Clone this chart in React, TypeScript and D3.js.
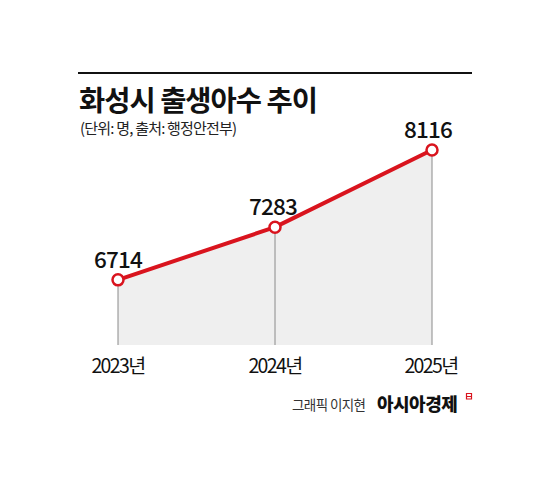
import React from "react";
import * as d3 from "d3";

const years = ["2023년", "2024년", "2025년"];
const births = [6714, 7283, 8116];
const title = "화성시 출생아수 추이";
const subtitle = "(단위: 명, 출처: 행정안전부)";
const creditName = "그래픽 이지현";
const creditBrand = "아시아경제";

const W = 550;
const H = 487;
const FONT = "'Noto Sans CJK KR', 'Noto Sans', sans-serif";

export default function App() {
  const x = d3.scalePoint<string>().domain(years).range([118, 432]);
  const y = d3.scaleLinear().domain([6000, 8116]).range([346, 150]);
  const base = 345;
  const pts = years.map((yr, i) => ({ yr, v: births[i] }));
  const line = d3
    .line<{ yr: string; v: number }>()
    .x((d) => x(d.yr)!)
    .y((d) => y(d.v));
  const area = d3
    .area<{ yr: string; v: number }>()
    .x((d) => x(d.yr)!)
    .y0(base)
    .y1((d) => y(d.v));
  const labelDx = [0, -2, -4];
  const yearDx = [0, 0, -1];

  return (
    <svg
      width={W}
      height={H}
      style={{ position: "absolute", left: 0, top: 0, background: "#fff" }}
      fontFamily={FONT}
    >
      <rect width={W} height={H} fill="#fff" />
      <line x1={78} x2={472} y1={73} y2={73} stroke="#111" strokeWidth={2} />
      <text x={79} y={111} fontSize={28.5} fontWeight={700} fill="#111" letterSpacing={-1}>
        {title}
      </text>
      <text x={80} y={134} fontSize={15} fill="#222" letterSpacing={-0.8}>
        {subtitle}
      </text>

      <path d={area(pts)!} fill="#efefef" />
      {pts.map((d) => (
        <line
          key={"v" + d.yr}
          x1={x(d.yr)}
          x2={x(d.yr)}
          y1={y(d.v)}
          y2={base}
          stroke="#8a8a8a"
          strokeWidth={1}
        />
      ))}
      <path d={line(pts)!} fill="none" stroke="#d9141e" strokeWidth={4} strokeLinejoin="round" />
      {pts.map((d) => (
        <circle
          key={"c" + d.yr}
          cx={x(d.yr)}
          cy={y(d.v)}
          r={5.5}
          fill="#fff"
          stroke="#d9141e"
          strokeWidth={2.5}
        />
      ))}
      {pts.map((d, i) => (
        <text
          key={"l" + d.yr}
          x={x(d.yr)! + labelDx[i]}
          y={y(d.v) - 12}
          textAnchor="middle"
          fontSize={22.5}
          fontWeight={500}
          fill="#111"
          letterSpacing={-0.8}
        >
          {d3.format("d")(d.v)}
        </text>
      ))}
      {years.map((yr, i) => (
        <text
          key={"y" + yr}
          x={x(yr)! + yearDx[i]}
          y={373}
          textAnchor="middle"
          fontSize={19.5}
          fill="#111"
          letterSpacing={-1.6}
        >
          {yr}
        </text>
      ))}

      <text x={292} y={410} fontSize={13.5} fill="#333" letterSpacing={-0.6}>
        {creditName}
      </text>
      <text x={377} y={411} fontSize={18} fontWeight={900} fill="#111" letterSpacing={-0.5}>
        {creditBrand}
      </text>
      <path d="M466.5,393.5 h5 v5.5 h-5 z M466.5,396.5 h5" fill="none" stroke="#d9141e" strokeWidth={1.2} />
    </svg>
  );
}
